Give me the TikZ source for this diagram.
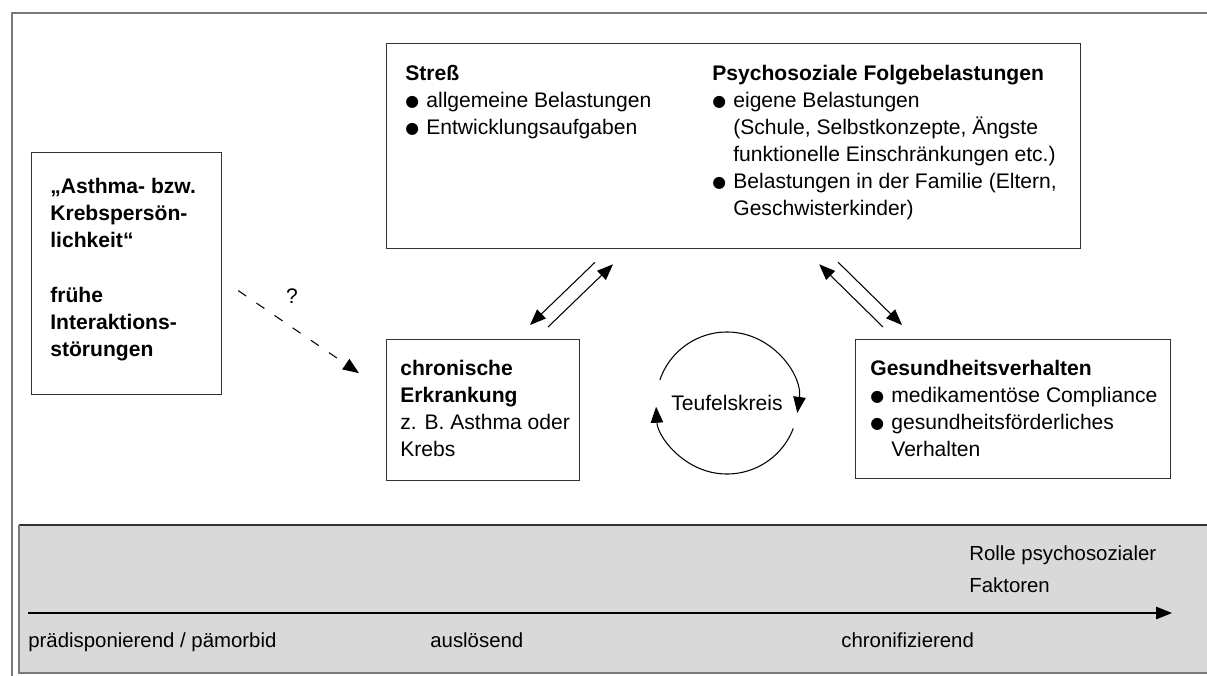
\documentclass[tikz,border=0pt]{standalone}
\usepackage{fontspec}
\setmainfont{Liberation Sans}
\newfontfamily\symfont{DejaVu Sans}
\usetikzlibrary{positioning,arrows.meta,calc}
\definecolor{boxStroke}{HTML}{333333}
\definecolor{frameStroke}{HTML}{7A7A7A}
\definecolor{bandFill}{HTML}{D9D9D9}
\newlength{\bulw}\setlength{\bulw}{0.42cm}
\newcommand{\bul}{\makebox[\bulw][l]{\raisebox{0.6pt}{\symfont\fontsize{9}{9}\selectfont ●}}}
\newcommand{\einr}{\hspace*{\bulw}}

\begin{document}
\begin{tikzpicture}[
  x=0.02cm, y=-0.02cm,
  font=\fontsize{12}{15.4}\selectfont,
  box/.style  ={draw=boxStroke, line width=0.75pt, inner sep=0pt},
  txt/.style  ={align=left, inner sep=0pt},
  arr/.style  ={-{Triangle[length=3.2mm,width=2.5mm]}, line width=0.6pt},
  frage/.style={arr, dash pattern=on 5.5pt off 7pt},
  band/.style ={txt, font=\fontsize{11.6}{18.2}\selectfont},
]
\useasboundingbox (0,0) rectangle (1207,676);

% ==================== Rahmen ====================
\draw[frameStroke, line width=1pt] (1207,13) -- (12,13) -- (12,676);

% ==================== Kaesten ====================
\node[box, anchor=north west, minimum width=13.88cm, minimum height=4.1cm] (belast) at (386,43) {};
\node[txt, anchor=north west] (stress) at ($(belast.north west)+(19,22)$) {%
\textbf{Streß}\\
\bul allgemeine Belastungen\\
\bul Entwicklungsaufgaben};
\node[txt, anchor=north west] (folge) at ($(stress.north west)+(307,0)$) {%
\textbf{Psychosoziale Folgebelastungen}\\
\bul eigene Belastungen\\
\einr(Schule, Selbstkonzepte, Ängste\\
\einr funktionelle Einschränkungen etc.)\\
\bul Belastungen in der Familie (Eltern,\\
\einr Geschwisterkinder)};

\node[box, anchor=north west, minimum width=3.8cm, minimum height=4.84cm] (persoen) at (31,152) {};
\node[txt, anchor=west, font=\fontsize{12}{15.4}\selectfont\bfseries] (persoentxt) at ($(persoen.west)+(19,-4)$) {%
„Asthma- bzw.\\
Krebspersön-\\
lichkeit“\\[15.4pt]
frühe\\
Interaktions-\\
störungen};

\node[box, anchor=north west, minimum width=3.86cm, minimum height=2.82cm] (chron) at (386,339) {};
\node[txt, anchor=west] (chrontxt) at ($(chron.west)+(14,-2)$) {%
\textbf{chronische}\\
\textbf{Erkrankung}\\
z. B. Asthma oder\\
Krebs};

\node[box, anchor=north west, minimum width=6.3cm, minimum height=2.78cm] (gesund) at (855,339) {};
\node[txt, anchor=west] (gesundtxt) at ($(gesund.west)+(15,-1)$) {%
\textbf{Gesundheitsverhalten}\\
\bul medikamentöse Compliance\\
\bul gesundheitsförderliches\\
\einr Verhalten};

% ==================== Pfeile ====================
\draw[arr] ($(belast.south west)+(209,13)$) -- ($(chron.north west)+(144,-14)$);
\draw[arr] ($(chron.north west)+(162,-12)$) -- ($(belast.south west)+(227,15)$);
\draw[arr] ($(gesund.north west)+(28,-12)$) -- ($(belast.south east)+(-262,15)$);
\draw[arr] ($(belast.south east)+(-243,13)$) -- ($(gesund.north west)+(47,-14)$);

% fragliche Verbindung
\draw[frage] ($(persoen.east)+(16,17)$) -- ($(chron.west)+(-27,-37)$);
\node (fragezeichen) at (292,296) {?};

% Teufelskreis
\coordinate (kreis) at (727,403);
\node (teufel) at (kreis) {Teufelskreis};
\draw[arr] ($(kreis)+(161:1.42cm)$) arc[start angle=161, end angle=-8, radius=1.42cm];
\draw[arr] ($(kreis)+(-21:1.42cm)$) arc[start angle=-21, end angle=-177, radius=1.42cm];

% ==================== Zeitachse ====================
\fill[bandFill] (19,525) rectangle (1207,673);
\draw[boxStroke, line width=0.75pt] (1207,525) -- (19,525);
\draw[frameStroke, line width=0.75pt] (19,525) -- (19,673) -- (1207,673);

\coordinate (zeit0) at (28,613);
\coordinate (zeit1) at (1172,613);
\draw[arr, line width=0.75pt] (zeit0) -- (zeit1);

\node[band, anchor=north west] (rolle) at (969,545) {Rolle psychosozialer\\Faktoren};
\node[band, anchor=base west] (praed) at (28,647) {prädisponierend / pämorbid};
\node[band, anchor=base west] (ausl) at (430,647) {auslösend};
\node[band, anchor=base west] (chronif) at (841,647) {chronifizierend};

\end{tikzpicture}
\end{document}
